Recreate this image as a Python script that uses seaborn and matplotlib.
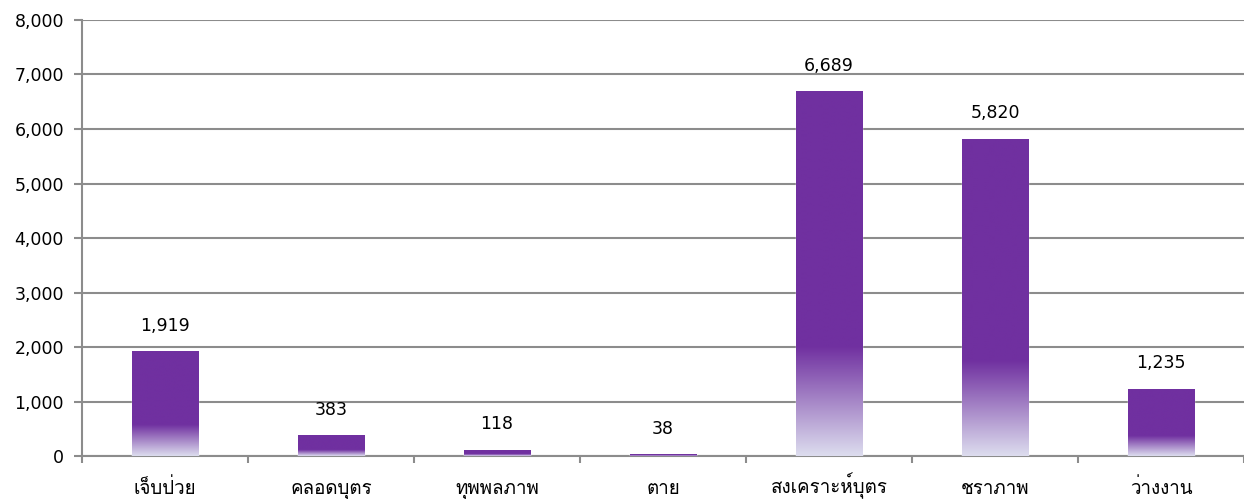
import numpy as np
import pandas as pd
import seaborn as sns
import matplotlib
matplotlib.use("Agg")
import matplotlib.pyplot as plt
from matplotlib.colors import LinearSegmentedColormap

# data
categories = ['เจ็บป่วย', 'คลอดบุตร', 'ทุพพลภาพ', 'ตาย', 'สงเคราะห์บุตร', 'ชราภาพ', 'ว่างงาน']
values = [1919, 383, 118, 38, 6689, 5820, 1235]
yticks = [0, 1000, 2000, 3000, 4000, 5000, 6000, 7000, 8000]

df = pd.DataFrame({'category': categories, 'value': values})

sns.set_style('white')
plt.rcParams['font.family'] = ['DejaVu Sans', 'Loma']

purple = '#7030A0'
gray = '#8c8c8c'
fade = LinearSegmentedColormap.from_list('fade', ['#DCDCEE', purple])

fig = plt.figure(figsize=(12.44, 4.99), dpi=100)
ax = fig.add_axes([0.066, 0.086, 0.934, 0.874])

sns.barplot(data=df, x='category', y='value', color=purple, width=0.4,
            saturation=1, ax=ax, zorder=3)

# gradient on the lower 30% of each bar
grad = np.linspace(0, 1, 256).reshape(-1, 1)
grad = np.clip(grad / 0.3, 0, 1)
for p in ax.patches:
    x0, w, h = p.get_x(), p.get_width(), p.get_height()
    im = ax.imshow(grad, cmap=fade, origin='lower', aspect='auto',
                   extent=[x0, x0 + w, 0, h], zorder=4, interpolation='bilinear')
    im.set_clip_path(p)

for i, v in enumerate(values):
    ax.text(i, v + 300, f'{v:,}', ha='center', va='bottom', fontsize=12.5, color='black')

ax.set_xlim(-0.5, 6.5)
ax.set_ylim(0, 8000)
ax.set_yticks(yticks)
ax.set_yticklabels([f'{t:,}' for t in yticks], fontsize=12.5)
ax.set_xticks(range(len(categories)))
ax.set_xticklabels(categories, fontsize=13.5, va='baseline')
ax.set_xticks(np.arange(-0.5, 6.6, 1), minor=True)
ax.tick_params(axis='x', which='major', length=0, pad=27, labelcolor='black')
ax.tick_params(axis='x', which='minor', length=5, width=1.5, color=gray, direction='out', bottom=True)
ax.tick_params(axis='y', length=6, width=1.5, color=gray, left=True, pad=7, labelcolor='black')
ax.yaxis.grid(True, color=gray, linewidth=1.5, zorder=0)
ax.set_axisbelow(True)

for s in ['top', 'right']:
    ax.spines[s].set_visible(False)
for s in ['left', 'bottom']:
    ax.spines[s].set_color(gray)
    ax.spines[s].set_linewidth(1.5)

ax.set_xlabel('')
ax.set_ylabel('')

fig.savefig('out.png', dpi=100)
